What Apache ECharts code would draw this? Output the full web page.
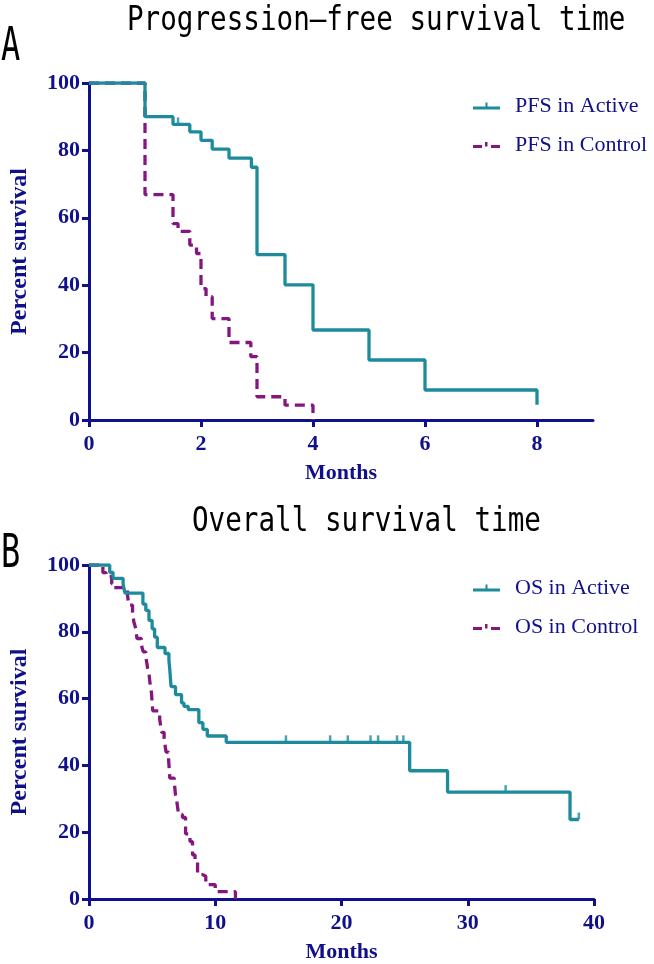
<!DOCTYPE html>
<html><head><meta charset="utf-8">
<script src="https://cdn.jsdelivr.net/npm/echarts@6/dist/echarts.min.js"></script>
<style>html,body{margin:0;padding:0;background:#fff}#c{width:654px;height:964px}</style>
</head><body><div id="c"></div>
<script>
// ---- Panel A: Progression-free survival (months, percent) ----
const pfsActiveT = [0, 1.0, 1.5, 1.8, 2.0, 2.2, 2.5, 2.9, 3.0, 3.5, 4.0, 5.0, 6.0, 8.0];
const pfsActiveS = [100, 90.0, 87.7, 85.5, 83.0, 80.4, 77.7, 75.0, 49.1, 40.1, 26.7, 17.8, 8.9, 4.5];
const pfsActiveCensorT = [1.59];
const pfsActiveCensorS = [87.7];
const pfsControlT = [0, 1.0, 1.5, 1.59, 1.8, 1.92, 2.0, 2.09, 2.2, 2.5, 2.89, 3.0, 3.5, 4.0];
const pfsControlS = [100, 66.9, 58.3, 56.0, 51.9, 49.4, 39.0, 36.6, 30.1, 23.0, 18.8, 6.9, 4.4, 0];

// ---- Panel B: Overall survival ----
const osActiveT = [0, 1.64, 1.9, 2.7, 2.85, 4.27, 4.5, 4.75, 5.0, 5.2, 5.41, 6.02, 6.33, 6.4, 6.5, 6.85, 7.33, 7.52, 7.86, 8.7, 9.02, 9.37, 10.87, 25.4, 28.4, 38.1, 38.8];
const osActiveS = [100, 97.8, 96.0, 94.2, 91.6, 88.3, 86.4, 83.4, 80.9, 78.4, 75.3, 73.5, 71.5, 68.6, 63.6, 61.2, 58.7, 57.7, 56.7, 52.8, 50.8, 48.8, 46.9, 38.4, 32.0, 23.8, 23.8];
const osActiveCensorT = [15.6, 19.1, 20.5, 22.3, 22.9, 24.4, 24.9, 33.0, 38.8];
const osActiveCensorS = [46.9, 46.9, 46.9, 46.9, 46.9, 46.9, 46.9, 32.0, 23.8];
const osControlT = [0, 1.1, 1.35, 1.8, 2.0, 3.05, 3.15, 3.45, 3.55, 3.7, 3.8, 4.15, 4.3, 4.5, 4.65, 4.75, 4.85, 4.95, 5.0, 5.05, 5.6, 5.75, 5.95, 6.1, 6.3, 6.4, 6.75, 6.85, 6.95, 7.1, 7.4, 7.65, 8.0, 8.2, 8.4, 8.6, 9.0, 9.25, 10.0, 11.6];
const osControlS = [100, 97.7, 96.6, 94.4, 93.2, 91.0, 88.0, 85.8, 83.0, 81.0, 78.0, 76.0, 74.0, 72.5, 69.0, 67.5, 64.0, 61.7, 58.7, 56.3, 53.8, 49.9, 48.0, 44.0, 42.0, 36.2, 35.2, 31.2, 29.3, 25.3, 24.4, 19.5, 17.2, 13.2, 11.7, 7.3, 6.8, 4.3, 2.2, 0];

const yTicks = [0, 20, 40, 60, 80, 100];
const pfsXTicks = [0, 2, 4, 6, 8];
const osXTicks = [0, 10, 20, 30, 40];
const seriesNames = ['PFS in Active', 'PFS in Control', 'OS in Active', 'OS in Control'];

function pairs(t, s) { return t.map((x, i) => [x, s[i]]); }

const NAVY = '#10108a', TEAL = '#1d8b9b', PURPLE = '#84167f';
const SERIF = '"Liberation Serif","Times New Roman",serif';
const MONO = '"DejaVu Sans Mono",monospace';
const axisFont = { fontFamily: SERIF, fontWeight: 'bold', fontSize: 22, color: NAVY };
const ICON_A = 'path://M0,5H27V8H0Z M12.5,1H14.5V5H12.5Z';
const ICON_C = 'path://M0,5H9V8H0Z M12,2H14.5V6.5H12Z M18,5H27V8H18Z';

function mkX(idx, ticks) {
  return { gridIndex: idx, type: 'value', min: ticks[0], max: idx === 0 ? 9 : ticks[ticks.length - 1],
    interval: ticks[1] - ticks[0], name: 'Months', nameLocation: 'middle', nameGap: 42,
    nameTextStyle: Object.assign({}, axisFont),
    axisLine: { show: true, onZero: false, lineStyle: { color: NAVY, width: 3 } },
    axisTick: { show: true, length: 7, lineStyle: { color: NAVY, width: 3 } },
    axisLabel: Object.assign({ margin: 13, showMaxLabel: idx !== 0 }, axisFont),
    splitLine: { show: false } };
}
function mkY(idx) {
  return { gridIndex: idx, type: 'value', min: yTicks[0], max: yTicks[yTicks.length - 1], interval: yTicks[1] - yTicks[0],
    name: 'Percent survival', nameLocation: 'middle', nameGap: 57,
    nameTextStyle: Object.assign({}, axisFont, { fontSize: 24 }),
    axisLine: { show: true, onZero: false, lineStyle: { color: NAVY, width: 3 } },
    axisTick: { show: true, length: 7, lineStyle: { color: NAVY, width: 3 } },
    axisLabel: Object.assign({ margin: 9 }, axisFont),
    splitLine: { show: false } };
}
function km(name, idx, t, s, color, dashed, z) {
  return { type: 'line', name, xAxisIndex: idx, yAxisIndex: idx, data: pairs(t, s), step: 'end',
    symbol: 'none', z, lineStyle: { color, width: 3.3, type: dashed ? [10, 6] : 'solid' },
    itemStyle: { color }, emphasis: { disabled: true } };
}
function censor(idx, t, s) {
  return { type: 'scatter', xAxisIndex: idx, yAxisIndex: idx, data: pairs(t, s), symbol: 'rect',
    symbolSize: [2.5, 7], symbolOffset: [0, -3.5], itemStyle: { color: TEAL }, z: 5, silent: true };
}
function legend(top, names) {
  return { orient: 'vertical', left: 468, top, itemWidth: 27, itemHeight: 8, itemGap: 13, selectedMode: false,
    data: [{ name: names[0], icon: ICON_A }, { name: names[1], icon: ICON_C }],
    itemStyle: { borderWidth: 0 },
    textStyle: { fontFamily: SERIF, fontSize: 22, color: NAVY, lineHeight: 26, padding: [0, 0, 0, 10] } };
}

const chart = echarts.init(document.getElementById('c'));
chart.setOption({
  animation: false,
  backgroundColor: '#fff',
  graphic: [
    { type: 'text', x: 127, y: 4, scaleY: 1.25, style: { text: 'Progression\u2014free survival time', font: '27.6px ' + MONO, fill: '#000', textVerticalAlign: 'top' } },
    { type: 'text', x: 1, y: 25, scaleY: 1.45, style: { text: 'A', font: '32px ' + MONO, fill: '#000', textVerticalAlign: 'top' } },
    { type: 'text', x: 192, y: 505, scaleY: 1.25, style: { text: 'Overall survival time', font: '27.6px ' + MONO, fill: '#000', textVerticalAlign: 'top' } },
    { type: 'text', x: 1, y: 532, scaleY: 1.45, style: { text: 'B', font: '32px ' + MONO, fill: '#000', textVerticalAlign: 'top' } }
  ],
  grid: [
    { left: 87, top: 83, width: 506, height: 337 },
    { left: 88, top: 565, width: 506, height: 336 }
  ],
  xAxis: [mkX(0, pfsXTicks), mkX(1, osXTicks)],
  yAxis: [mkY(0), mkY(1)],
  legend: [legend(88, seriesNames.slice(0, 2)), legend(570, seriesNames.slice(2, 4))],
  series: [
    km(seriesNames[1], 0, pfsControlT, pfsControlS, PURPLE, true, 2),
    km(seriesNames[0], 0, pfsActiveT, pfsActiveS, TEAL, false, 3),
    censor(0, pfsActiveCensorT, pfsActiveCensorS),
    km(seriesNames[3], 1, osControlT, osControlS, PURPLE, true, 2),
    km(seriesNames[2], 1, osActiveT, osActiveS, TEAL, false, 3),
    censor(1, osActiveCensorT, osActiveCensorS)
  ]
});
</script></body></html>
